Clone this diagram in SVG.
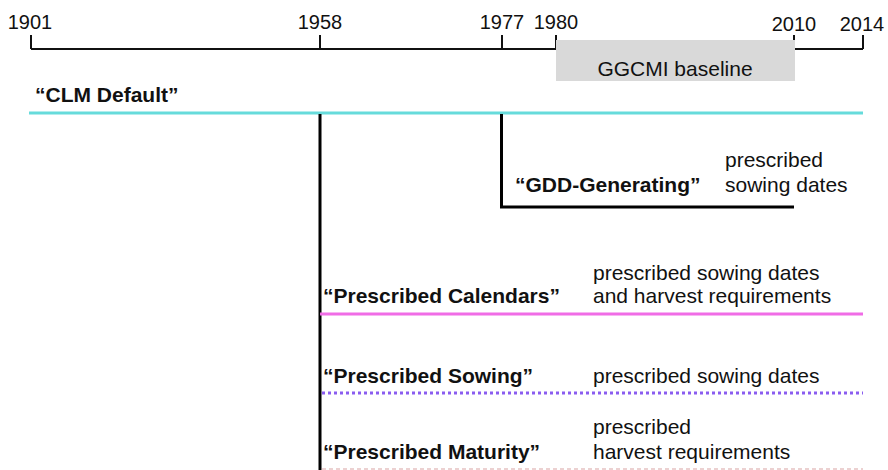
<svg xmlns="http://www.w3.org/2000/svg" width="888" height="470" viewBox="0 0 888 470">
<style>
text{font-family:"Liberation Sans",Arial,Helvetica,sans-serif;fill:#111;}
.yr{font-size:20px;text-anchor:middle;}
.lbl{font-size:21px;font-weight:bold;}
.desc{font-size:21px;}
.axis{stroke:#111;stroke-width:2;fill:none;}
.bar{stroke:#000;stroke-width:3;fill:none;}
</style>
<rect width="888" height="470" fill="#fff"/>
<g id="axis">
<path class="axis" d="M31,49H863M31,35V49M320,35V49M502,35V49M556,35V49M794,35V49M863,35V49"/>
<text class="yr" x="30" y="29">1901</text>
<text class="yr" x="320" y="29">1958</text>
<text class="yr" x="502" y="29">1977</text>
<text class="yr" x="556" y="29">1980</text>
<text class="yr" x="794" y="31">2010</text>
<text class="yr" x="862" y="31">2014</text>
</g>
<g id="ggcmi">
<rect x="556" y="40" width="239" height="41" fill="#d9d9d9"/>
<text class="desc" x="675" y="76" text-anchor="middle">GGCMI baseline</text>
</g>
<g id="connectors">
<line x1="29" y1="113" x2="863" y2="113" stroke="#66dbdb" stroke-width="3"/>
<line x1="320" y1="114" x2="320" y2="470" stroke="#000" stroke-width="3"/>
<path class="bar" d="M501.5,114V207H794"/>
<line x1="320" y1="314" x2="863" y2="314" stroke="#f06ce6" stroke-width="3"/>
<line x1="322" y1="393" x2="863" y2="393" stroke="#8a5cf0" stroke-width="3" stroke-dasharray="3,3"/>
<line x1="322" y1="469" x2="863" y2="469" stroke="#d9a3a3" stroke-width="1.2" stroke-dasharray="4,3"/>
</g>
<g id="clm-default">
<text class="lbl" x="35" y="102">“CLM Default”</text>
</g>
<g id="gdd-generating">
<text class="lbl" x="515" y="192">“GDD-Generating”</text>
<text class="desc" x="725" y="167">prescribed</text>
<text class="desc" x="725" y="192">sowing dates</text>
</g>
<g id="prescribed-calendars">
<text class="lbl" x="323" y="303">“Prescribed Calendars”</text>
<text class="desc" x="593" y="280">prescribed sowing dates</text>
<text class="desc" x="593" y="303">and harvest requirements</text>
</g>
<g id="prescribed-sowing">
<text class="lbl" x="323" y="383">“Prescribed Sowing”</text>
<text class="desc" x="593" y="383">prescribed sowing dates</text>
</g>
<g id="prescribed-maturity">
<text class="lbl" x="323" y="459">“Prescribed Maturity”</text>
<text class="desc" x="593" y="434">prescribed</text>
<text class="desc" x="593" y="459">harvest requirements</text>
</g>
</svg>
